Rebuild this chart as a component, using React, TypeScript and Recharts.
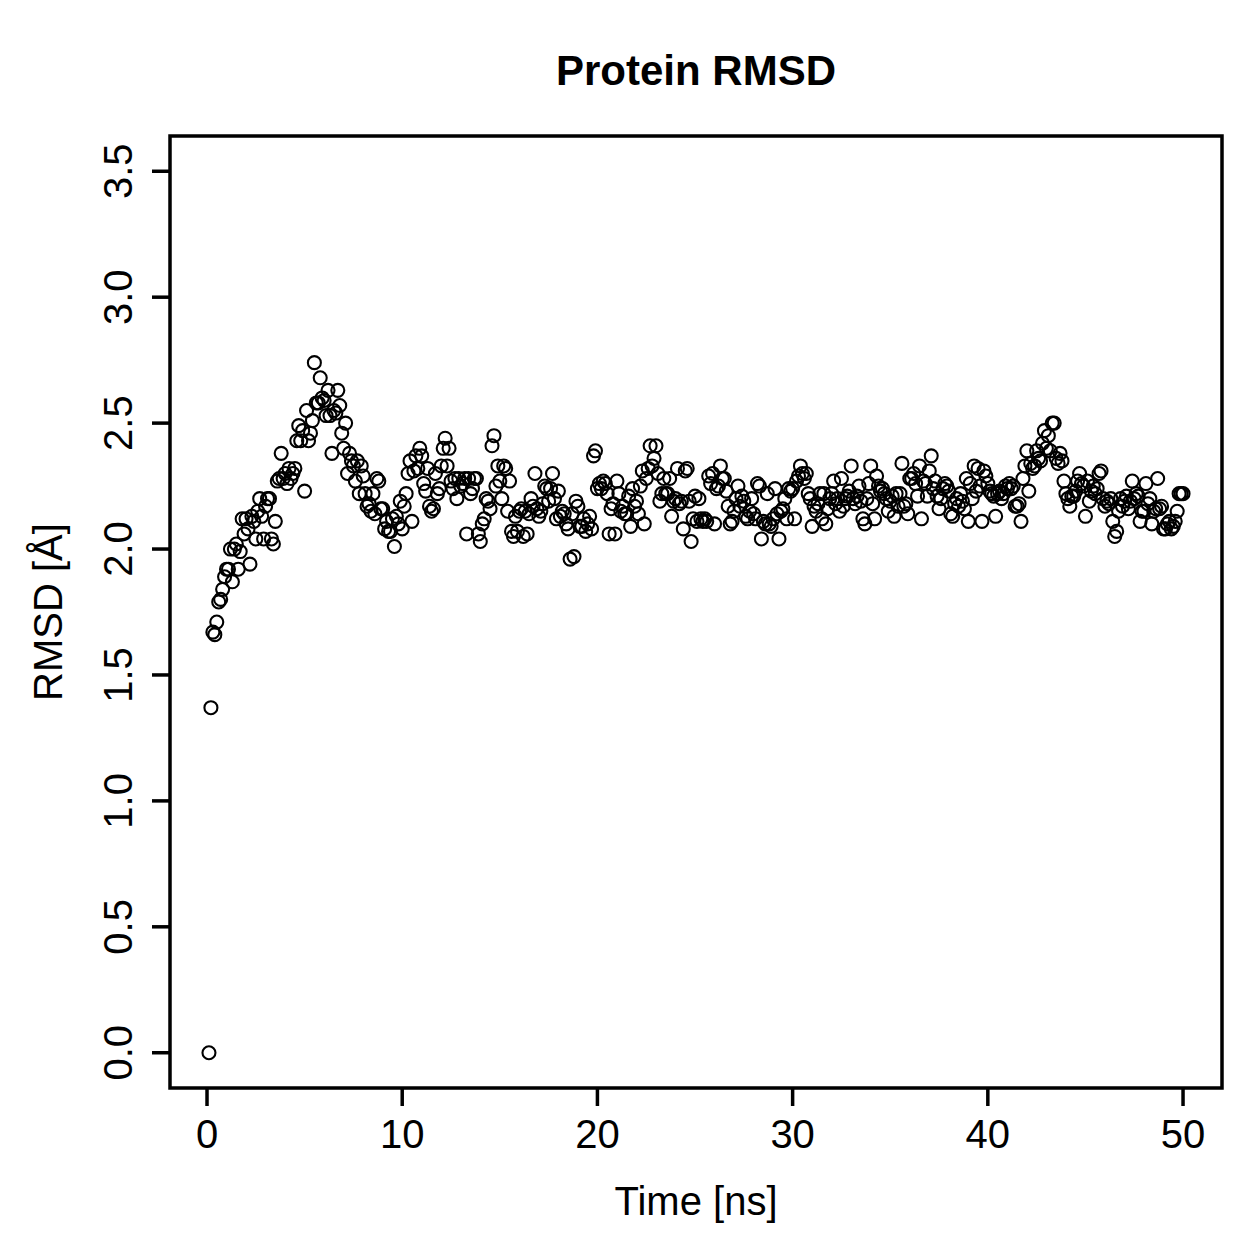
import {
  ScatterChart,
  Scatter,
  XAxis,
  YAxis,
  ReferenceArea,
  Label,
} from 'recharts';

const FONT = '"Liberation Sans", Arial, Helvetica, sans-serif';

// one frame every 0.1 ns, first frame at 0.1 ns
const FRAME_NS = 0.1;

// RMSD [Å] per frame
const RMSD = [
  0.00, 1.37, 1.67, 1.66, 1.71, 1.79, 1.80, 1.84, 1.89, 1.92,
  1.92, 2.00, 1.87, 2.00, 2.02, 1.92, 1.99, 2.12, 2.06, 2.12,
  2.08, 1.94, 2.13, 2.11, 2.04, 2.15, 2.20, 2.13, 2.04, 2.17,
  2.20, 2.20, 2.04, 2.02, 2.11, 2.27, 2.28, 2.38, 2.28, 2.30,
  2.26, 2.32, 2.28, 2.30, 2.32, 2.43, 2.49, 2.43, 2.47, 2.23,
  2.55, 2.43, 2.46, 2.51, 2.74, 2.58, 2.58, 2.68, 2.60, 2.59,
  2.53, 2.63, 2.53, 2.38, 2.55, 2.54, 2.63, 2.57, 2.46, 2.40,
  2.50, 2.30, 2.38, 2.35, 2.33, 2.27, 2.35, 2.22, 2.33, 2.29,
  2.22, 2.17, 2.18, 2.15, 2.22, 2.14, 2.28, 2.27, 2.16, 2.16,
  2.08, 2.11, 2.07, 2.07, 2.12, 2.01, 2.13, 2.10, 2.19, 2.08,
  2.17, 2.22, 2.30, 2.35, 2.11, 2.31, 2.37, 2.32, 2.40, 2.37,
  2.26, 2.23, 2.32, 2.17, 2.15, 2.16, 2.30, 2.22, 2.24, 2.33,
  2.40, 2.44, 2.33, 2.40, 2.27, 2.24, 2.28, 2.20, 2.28, 2.25,
  2.26,
  2.28, 2.06, 2.28, 2.22, 2.24, 2.28, 2.28, 2.06, 2.03, 2.10,
  2.12, 2.20, 2.19, 2.16, 2.41, 2.45, 2.25, 2.33, 2.27, 2.20,
  2.33, 2.32, 2.15, 2.27, 2.07, 2.05, 2.13, 2.07, 2.15, 2.16,
  2.05, 2.15, 2.06, 2.14, 2.20, 2.17, 2.30, 2.16, 2.13, 2.15,
  2.18,
  2.25, 2.24, 2.19, 2.24, 2.30, 2.20, 2.12, 2.23, 2.13, 2.15,
  2.14, 2.10, 2.08, 1.96, 2.14, 1.97, 2.19, 2.17, 2.09, 2.09,
  2.12, 2.07, 2.10, 2.13, 2.08, 2.37, 2.39, 2.24, 2.26, 2.24,
  2.27, 2.26, 2.22, 2.06, 2.16, 2.18, 2.06, 2.27, 2.22, 2.15,
  2.17,
  2.14, 2.14, 2.21, 2.09, 2.24, 2.17, 2.19, 2.14, 2.25, 2.31,
  2.10, 2.28, 2.32, 2.41, 2.33, 2.36, 2.41, 2.30, 2.19, 2.22,
  2.28, 2.22, 2.22, 2.28, 2.13, 2.19, 2.20, 2.32, 2.18, 2.19,
  2.08, 2.31, 2.32, 2.19, 2.03, 2.12, 2.21, 2.11, 2.20, 2.12,
  2.11, 2.12, 2.11, 2.29, 2.26, 2.30, 2.10, 2.24, 2.25, 2.33,
  2.28,
  2.28, 2.23, 2.17, 2.10, 2.11, 2.15, 2.20, 2.25, 2.17, 2.21,
  2.19, 2.13, 2.12, 2.15, 2.20, 2.14, 2.12, 2.26, 2.25, 2.04,
  2.11, 2.10, 2.22, 2.10, 2.09, 2.12, 2.24, 2.14, 2.04, 2.15,
  2.16, 2.20, 2.12, 2.24, 2.23, 2.24, 2.12, 2.27, 2.29, 2.33,
  2.30,
  2.28, 2.30, 2.22, 2.20, 2.09, 2.17, 2.15, 2.18, 2.22, 2.12,
  2.22, 2.10, 2.16, 2.20, 2.22, 2.27, 2.18, 2.20, 2.15, 2.28,
  2.17, 2.20, 2.21, 2.23, 2.33, 2.20, 2.18, 2.21, 2.25, 2.19,
  2.12, 2.10, 2.20, 2.26, 2.33, 2.18, 2.12, 2.29, 2.25, 2.23,
  2.24,
  2.22, 2.20, 2.15, 2.19, 2.21, 2.13, 2.22, 2.17, 2.22, 2.34,
  2.17, 2.18, 2.14, 2.28, 2.28, 2.30, 2.26, 2.21, 2.33, 2.12,
  2.27, 2.26, 2.21, 2.31, 2.37, 2.24, 2.27, 2.21, 2.16, 2.20,
  2.24, 2.26, 2.25, 2.23, 2.14, 2.13, 2.18, 2.20, 2.17, 2.22,
  2.19,
  2.16, 2.28, 2.11, 2.26, 2.20, 2.33, 2.23, 2.32, 2.25, 2.11,
  2.31, 2.29, 2.26, 2.23, 2.22, 2.21, 2.13, 2.22, 2.23, 2.20,
  2.22, 2.25, 2.24, 2.26, 2.24, 2.25, 2.17, 2.17, 2.18, 2.11,
  2.28, 2.33, 2.39, 2.23, 2.34, 2.32, 2.33, 2.39, 2.36, 2.35,
  2.42, 2.47, 2.40, 2.45, 2.39, 2.50, 2.50, 2.36, 2.34, 2.38,
  2.35,
  2.27, 2.22, 2.20, 2.17, 2.21, 2.21, 2.23, 2.27, 2.30, 2.26,
  2.25, 2.13, 2.27, 2.19, 2.23, 2.25, 2.22, 2.24, 2.30, 2.31,
  2.20, 2.17, 2.19, 2.18, 2.20, 2.11, 2.05, 2.07, 2.15, 2.20,
  2.17, 2.19, 2.21, 2.16, 2.19, 2.27, 2.20, 2.22, 2.21, 2.11,
  2.15,
  2.15, 2.26, 2.18, 2.20, 2.10, 2.15, 2.16, 2.28, 2.16, 2.17,
  2.08, 2.08, 2.10, 2.11, 2.08, 2.09, 2.11, 2.15, 2.22, 2.22,
  2.22,
];

const X_TICKS = [0, 10, 20, 30, 40, 50];
const Y_TICKS = [0, 0.5, 1, 1.5, 2, 2.5, 3, 3.5];

// R-style 4% padding around the data range
const X_DOMAIN: [number, number] = [-1.896, 51.996];
const Y_DOMAIN: [number, number] = [-0.14, 3.64];

const points = RMSD.map((v, i) => ({ t: +((i + 1) * FRAME_NS).toFixed(1), rmsd: v }));

const XTick = (props: any) => {
  const { x, y, payload } = props;
  return (
    <text x={x} y={y + 42} textAnchor="middle" fontSize={40} fontFamily={FONT} fill="#000">
      {payload.value}
    </text>
  );
};

const YTick = (props: any) => {
  const { x, y, payload } = props;
  const bx = x - 20;
  return (
    <text
      x={bx}
      y={y}
      transform={`rotate(-90, ${bx}, ${y})`}
      textAnchor="middle"
      fontSize={40}
      fontFamily={FONT}
      fill="#000"
    >
      {Number(payload.value).toFixed(1)}
    </text>
  );
};

const ring = (p: any) => (
  <circle cx={p.cx} cy={p.cy} r={6.5} fill="none" stroke="#000" strokeWidth={2.1} />
);

export default function App() {
  return (
    <div style={{ position: 'absolute', left: 0, top: 0, background: '#fff' }}>
      <ScatterChart
        width={1259}
        height={1259}
        margin={{ top: 136, right: 37, bottom: 0, left: 0 }}
      >
        <XAxis
          type="number"
          dataKey="t"
          domain={X_DOMAIN}
          ticks={X_TICKS}
          allowDataOverflow
          height={171}
          axisLine={false}
          tickLine={{ stroke: '#000', strokeWidth: 3.5 }}
          tickSize={18}
          tickMargin={0}
          tick={XTick}
          interval={0}
        >
          <Label
            content={(p: any) => {
              const vb = p.viewBox;
              return (
                <text
                  x={vb.x + vb.width / 2}
                  y={vb.y + 127}
                  textAnchor="middle"
                  fontSize={40}
                  fontFamily={FONT}
                  fill="#000"
                >
                  Time [ns]
                </text>
              );
            }}
          />
        </XAxis>
        <YAxis
          type="number"
          dataKey="rmsd"
          domain={Y_DOMAIN}
          ticks={Y_TICKS}
          allowDataOverflow
          width={170}
          axisLine={false}
          tickLine={{ stroke: '#000', strokeWidth: 3.5 }}
          tickSize={18}
          tickMargin={0}
          tick={YTick}
          interval={0}
        >
          <Label
            content={(p: any) => {
              const vb = p.viewBox;
              const cx = 62;
              const cy = vb.y + vb.height / 2;
              return (
                <text
                  x={cx}
                  y={cy}
                  transform={`rotate(-90, ${cx}, ${cy})`}
                  textAnchor="middle"
                  fontSize={40}
                  fontFamily={FONT}
                  fill="#000"
                >
                  RMSD [Å]
                </text>
              );
            }}
          />
        </YAxis>
        <ReferenceArea
          x1={X_DOMAIN[0]}
          x2={X_DOMAIN[1]}
          y1={Y_DOMAIN[0]}
          y2={Y_DOMAIN[1]}
          fill="none"
          fillOpacity={0}
          stroke="#000"
          strokeWidth={3.5}
          strokeOpacity={1}
          ifOverflow="visible"
          label={(p: any) => {
            const vb = p.viewBox;
            return (
              <text
                x={vb.x + vb.width / 2}
                y={vb.y - 51}
                textAnchor="middle"
                fontSize={42}
                fontWeight="bold"
                fontFamily={FONT}
                fill="#000"
              >
                Protein RMSD
              </text>
            );
          }}
        />
        <Scatter data={points} dataKey="rmsd" shape={ring} isAnimationActive={false} />
      </ScatterChart>
    </div>
  );
}
